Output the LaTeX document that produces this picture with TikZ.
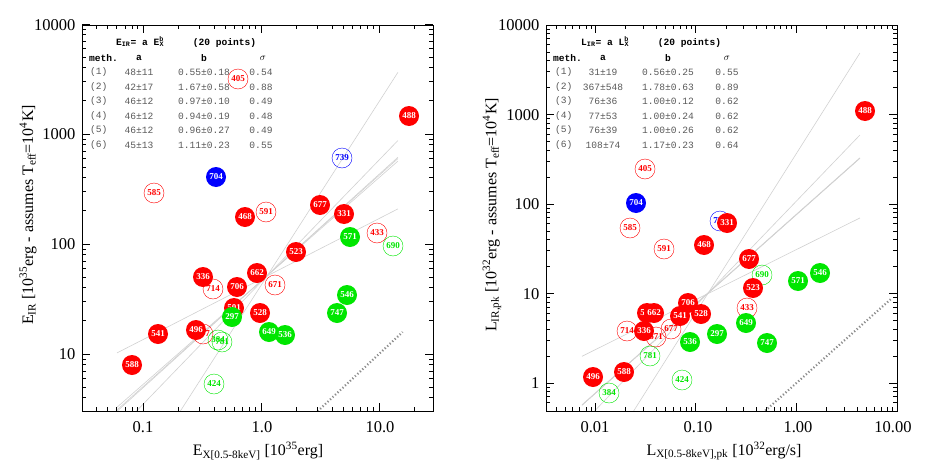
\documentclass[tikz,border=0pt]{standalone}
\usepackage{fontspec}
\setmainfont{Liberation Serif}
\newfontfamily\tabfont{Liberation Mono}
\begin{document}
\begin{tikzpicture}[x=1pt,y=-1pt,
  fil/.style={circle,minimum size=20pt,inner sep=0pt,fill=#1,text=white,font=\fontsize{9}{9}\selectfont\bfseries},
  opn/.style={circle,minimum size=20pt,inner sep=0pt,draw=#1,text=#1,font=\fontsize{9}{9}\selectfont\bfseries},
  fit/.style={black!18,line width=0.6pt},
  dots/.style={black!45,line width=2.2pt,dash pattern=on 1.2pt off 2.2pt},
  frame/.style={black,line width=1pt},
  tk/.style={black,line width=0.8pt},
  tl/.style={font=\fontsize{16.5}{17}\selectfont},
  al/.style={font=\fontsize{16}{17}\selectfont},
  tb/.style={font=\tabfont\fontsize{9.6}{10}\selectfont,text=black!65,inner sep=0pt},
  th/.style={font=\tabfont\bfseries\fontsize{9.6}{10}\selectfont,text=black,inner sep=0pt}]
\definecolor{pr}{RGB}{255,0,0}
\definecolor{pg}{RGB}{0,230,0}
\definecolor{pb}{RGB}{0,0,255}
\useasboundingbox (0,0) rectangle (926,463);
% ===== LEFT PANEL =====
\begin{scope}
\clip (82,25) rectangle (433,411);
\foreach \la/\b in {1.681/0.55,1.623/1.67,1.663/0.97,1.663/0.94,1.663/0.96,1.653/1.11}
  \draw[fit] plot[domain=-1.22:1.16,samples=2] ({82+(\x+1.517)*118},{354-(\la+\b*\x-1)*110});
\draw[dots] plot[domain=0.48:1.2,samples=2] ({82+(\x+1.517)*118},{354-(\x-1)*110});
\end{scope}
\draw[frame] (82,25) rectangle (433,411);
\foreach \v in {0.1,1,10}{\pgfmathsetmacro\p{82+(log10(\v)+1.517)*118}
  \draw[tk] (\p,411)--++(0,-8); \draw[tk] (\p,25)--++(0,8);}
\foreach \v in {0.04,0.05,0.06,0.07,0.08,0.09,0.2,0.3,0.4,0.5,0.6,0.7,0.8,0.9,2,3,4,5,6,7,8,9,20}{\pgfmathsetmacro\p{82+(log10(\v)+1.517)*118}
  \draw[tk] (\p,411)--++(0,-4); \draw[tk] (\p,25)--++(0,4);}
\foreach \v in {10,100,1000,10000}{\pgfmathsetmacro\p{354-(log10(\v)-1)*110}
  \draw[tk] (82,\p)--++(8,0); \draw[tk] (433,\p)--++(-8,0);}
\foreach \v in {4,5,6,7,8,9,20,30,40,50,60,70,80,90,200,300,400,500,600,700,800,900,2000,3000,4000,5000,6000,7000,8000,9000}{\pgfmathsetmacro\p{354-(log10(\v)-1)*110}
  \draw[tk] (82,\p)--++(4,0); \draw[tk] (433,\p)--++(-4,0);}
\node[tl] (lx1) at (143,427) {0.1};
\node[tl] (lx2) at (262,427) {1.0};
\node[tl] (lx3) at (380,427) {10.0};
\node[tl,anchor=east] (ly1) at (79,354) {10};
\node[tl,anchor=east] (ly2) at (79,244) {100};
\node[tl,anchor=east] (ly3) at (79,134) {1000};
\node[tl,anchor=east] (ly4) at (79,25) {10000};
\node[al] (lxl) at (258,451) {E\textsubscript{X[0.5-8keV]} [10\textsuperscript{35}erg]};
\node[al,rotate=90] (lyl) at (28,215) {E\textsubscript{IR} [10\textsuperscript{35}erg - assumes T\textsubscript{eff}=10\textsuperscript{4}K]};
% table left
\node[th,anchor=west] (lt) at (116,42) {E\textsubscript{IR}= a E\textsuperscript{b}\kern-0.45em\textsubscript{X}\ \ \ \ \ (20 points)};
\node[th,anchor=west] (lh1) at (89,58) {meth.};
\node[th] (lh2) at (139,58) {a};
\node[th] (lh3) at (204,58) {b};
\node[th] (lh4) at (263,58) {$\sigma$};
\foreach \i/\a/\b/\s [count=\k] in {(1)/48±11/0.55±0.18/0.54,(2)/42±17/1.67±0.58/0.88,(3)/46±12/0.97±0.10/0.49,(4)/46±12/0.94±0.19/0.48,(5)/46±12/0.96±0.27/0.49,(6)/45±13/1.11±0.23/0.55}{
  \pgfmathsetmacro\yy{58+\k*14.5}
  \node[tb,anchor=west] (lr\k a) at (90,\yy) {\i};
  \node[tb] (lr\k b) at (139,\yy) {\a};
  \node[tb] (lr\k c) at (204,\yy) {\b};
  \node[tb] (lr\k d) at (261,\yy) {\s};}
% points left
\node[opn=pr] (L405) at (238,79) {405};
\node[fil=pr] (L488) at (409,116) {488};
\node[opn=pb] (L739) at (342,158) {739};
\node[fil=pb] (L704) at (216,177) {704};
\node[opn=pr] (L585) at (154,193) {585};
\node[fil=pr] (L677) at (320,205) {677};
\node[fil=pr] (L331) at (344,214) {331};
\node[fil=pr] (L468) at (245,217) {468};
\node[opn=pr] (L591) at (266,212) {591};
\node[opn=pr] (L433) at (377,233) {433};
\node[opn=pg] (L690) at (393,246) {690};
\node[fil=pg] (L571) at (350,237) {571};
\node[fil=pr] (L523) at (296,252) {523};
\node[fil=pr] (L662) at (257,273) {662};
\node[fil=pr] (L336) at (203,277) {336};
\node[opn=pr] (L714) at (213,289) {714};
\node[fil=pr] (L706) at (237,287) {706};
\node[opn=pr] (L671) at (275,285) {671};
\node[fil=pg] (L546) at (347,295) {546};
\node[fil=pr] (L501) at (234,308) {501};
\node[fil=pg] (L747) at (337,313) {747};
\node[fil=pr] (L528) at (260,313) {528};
\node[fil=pg] (L297) at (232,317) {297};
\node[opn=pr] (L677b) at (203,334) {677};
\node[fil=pr] (L496) at (196,330) {496};
\node[opn=pg] (L384) at (218,340) {384};
\node[opn=pg] (L781) at (222,342) {781};
\node[fil=pg] (L649) at (269,332) {649};
\node[fil=pg] (L536) at (285,335) {536};
\node[fil=pr] (L541) at (158,334) {541};
\node[fil=pr] (L588) at (132,365) {588};
\node[opn=pg] (L424) at (214,384) {424};
% ===== RIGHT PANEL =====
\begin{scope}
\clip (546,25) rectangle (897,411);
\foreach \la/\b in {1.491/0.56,2.565/1.78,1.881/1.00,1.886/1.00,1.881/1.00,2.033/1.17}
  \draw[fit] plot[domain=-2.13:0.63,samples=2] ({546+(\x+2.487)*100.7},{383-(\la+\b*\x)*89.5});
\draw[dots] plot[domain=-0.31:0.95,samples=2] ({546+(\x+2.487)*100.7},{383-\x*89.5});
\end{scope}
\draw[frame] (546,25) rectangle (897,411);
\foreach \v in {0.01,0.1,1}{\pgfmathsetmacro\p{546+(log10(\v)+2.487)*100.7}
  \draw[tk] (\p,411)--++(0,-8); \draw[tk] (\p,25)--++(0,8);}
\foreach \v in {0.004,0.005,0.006,0.007,0.008,0.009,0.02,0.03,0.04,0.05,0.06,0.07,0.08,0.09,0.2,0.3,0.4,0.5,0.6,0.7,0.8,0.9,2,3,4,5,6,7,8,9}{\pgfmathsetmacro\p{546+(log10(\v)+2.487)*100.7}
  \draw[tk] (\p,411)--++(0,-4); \draw[tk] (\p,25)--++(0,4);}
\foreach \v in {1,10,100,1000,10000}{\pgfmathsetmacro\p{383-log10(\v)*89.5}
  \draw[tk] (546,\p)--++(8,0); \draw[tk] (897,\p)--++(-8,0);}
\foreach \v in {0.6,0.7,0.8,0.9,2,3,4,5,6,7,8,9,20,30,40,50,60,70,80,90,200,300,400,500,600,700,800,900,2000,3000,4000,5000,6000,7000,8000,9000}{\pgfmathsetmacro\p{383-log10(\v)*89.5}
  \draw[tk] (546,\p)--++(4,0); \draw[tk] (897,\p)--++(-4,0);}
\node[tl] (rx1) at (595,427) {0.01};
\node[tl] (rx2) at (698,427) {0.10};
\node[tl] (rx3) at (798,427) {1.00};
\node[tl] (rx4) at (893,427) {10.00};
\node[tl,anchor=east] (ry0) at (543,383) {1};
\node[tl,anchor=east] (ry1) at (543,294) {10};
\node[tl,anchor=east] (ry2) at (543,204) {100};
\node[tl,anchor=east] (ry3) at (543,115) {1000};
\node[tl,anchor=east] (ry4) at (543,25) {10000};
\node[al] (rxl) at (724,451) {L\textsubscript{X[0.5-8keV],pk} [10\textsuperscript{32}erg/s]};
\node[al,rotate=90] (ryl) at (492,215) {L\textsubscript{IR,pk} [10\textsuperscript{32}erg - assumes T\textsubscript{eff}=10\textsuperscript{4}K]};
% table right
\node[th,anchor=west] (rt) at (581,42) {L\textsubscript{IR}= a L\textsuperscript{b}\kern-0.45em\textsubscript{X}\ \ \ \ \ (20 points)};
\node[th,anchor=west] (rh1) at (553,58) {meth.};
\node[th] (rh2) at (603,58) {a};
\node[th] (rh3) at (668,58) {b};
\node[th] (rh4) at (727,58) {$\sigma$};
\foreach \i/\a/\b/\s [count=\k] in {(1)/31±19/0.56±0.25/0.55,(2)/367±548/1.78±0.63/0.89,(3)/76±36/1.00±0.12/0.62,(4)/77±53/1.00±0.24/0.62,(5)/76±39/1.00±0.26/0.62,(6)/108±74/1.17±0.23/0.64}{
  \pgfmathsetmacro\yy{58+\k*14.5}
  \node[tb,anchor=west] (rr\k a) at (555,\yy) {\i};
  \node[tb] (rr\k b) at (603,\yy) {\a};
  \node[tb] (rr\k c) at (668,\yy) {\b};
  \node[tb] (rr\k d) at (727,\yy) {\s};}
% points right
\node[opn=pr] (R405) at (645,169) {405};
\node[fil=pr] (R488) at (865,111) {488};
\node[fil=pb] (R704) at (636,203) {704};
\node[opn=pr] (R585) at (630,228) {585};
\node[opn=pr] (R591) at (664,249) {591};
\node[opn=pb] (R739) at (720,221) {739};
\node[fil=pr] (R331) at (727,223) {331};
\node[fil=pr] (R468) at (704,245) {468};
\node[fil=pr] (R677) at (749,259) {677};
\node[opn=pg] (R690) at (762,275) {690};
\node[fil=pr] (R523) at (753,288) {523};
\node[fil=pg] (R571) at (798,281) {571};
\node[fil=pg] (R546) at (820,273) {546};
\node[opn=pr] (R433) at (747,308) {433};
\node[fil=pg] (R649) at (746,323) {649};
\node[fil=pg] (R747) at (767,343) {747};
\node[fil=pr] (R706) at (688,303) {706};
\node[fil=pr] (R528) at (701,314) {528};
\node[fil=pr] (R541) at (680,316) {541};
\node[fil=pg] (R297) at (717,334) {297};
\node[fil=pg] (R536) at (690,342) {536};
\node[fil=pr] (R501) at (647,313) {501};
\node[fil=pr] (R662) at (654,313) {662};
\node[opn=pr] (R714) at (627,331) {714};
\node[opn=pr] (R671) at (656,337) {671};
\node[fil=pr] (R336) at (644,331) {336};
\node[opn=pr] (R677b) at (671,329) {677};
\node[opn=pg] (R781) at (650,356) {781};
\node[opn=pg] (R424) at (682,380) {424};
\node[fil=pr] (R496) at (593,377) {496};
\node[fil=pr] (R588) at (624,372) {588};
\node[opn=pg] (R384) at (609,393) {384};
\end{tikzpicture}
\end{document}
